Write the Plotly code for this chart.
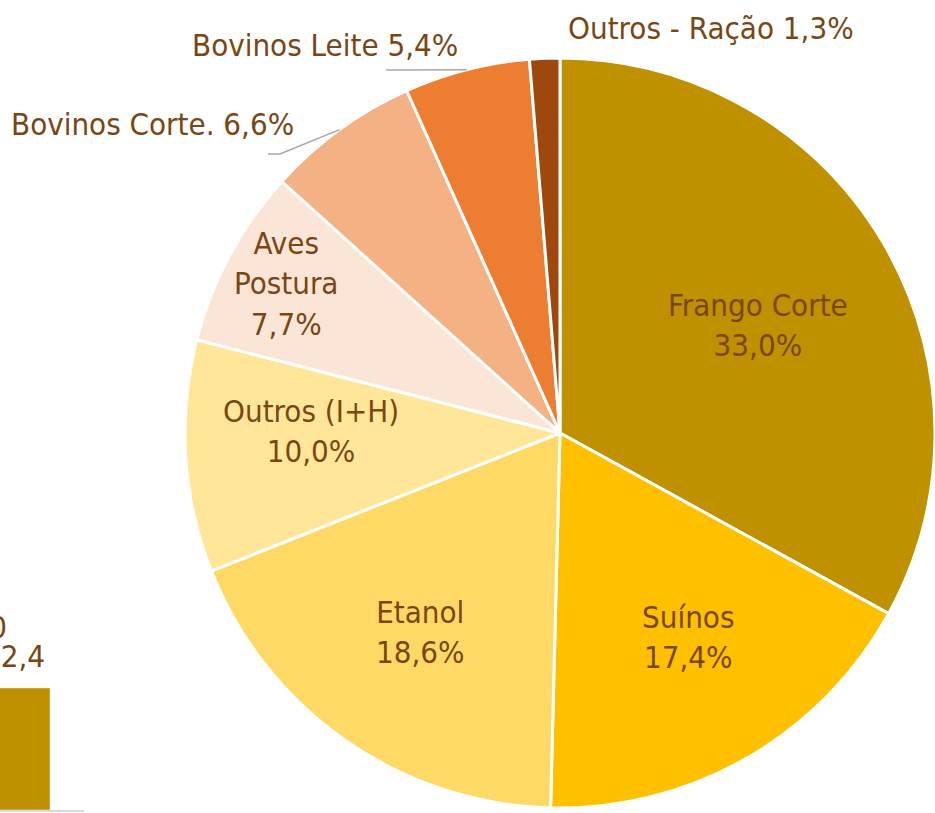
import math
import plotly.graph_objects as go

labels = ["Frango Corte", "Suínos", "Etanol", "Outros (I+H)", "Aves<br>Postura",
          "Bovinos Corte.", "Bovinos Leite", "Outros - Ração"]
values = [33.0, 17.4, 18.6, 10.0, 7.7, 6.6, 5.4, 1.3]
colors = ["#BF9000", "#FFC000", "#FFD966", "#FFE699", "#FBE5D6",
          "#F4B183", "#ED7D31", "#9E480E"]

bar_cat = ["2020"]
bar_val = [62.4]

FONT = "DejaVu Sans Condensed, Liberation Sans Narrow, sans-serif"
TXT = "#7A4614"
FS = 31

W, H = 935, 813
# pie placement (pixels)
CX, CY, R = 560, 433, 375

def fmt(v):
    return f"{v:.1f}".replace(".", ",") + "%"

fig = go.Figure()
fig.add_trace(go.Pie(
    labels=labels, values=values, textinfo="none",
    sort=False, direction="clockwise", rotation=0,
    marker=dict(colors=colors, line=dict(color="white", width=3)),
    hoverinfo="skip", showlegend=False,
    domain=dict(x=[(CX - R) / W, (CX + R) / W], y=[(H - CY - R) / H, (H - CY + R) / H]),
))

# slice label positions (pixels, layout only)
inside_pos = [(758, 325), (688, 637), (420, 632), (311, 431), (286, 284)]
outside_pos = [(296, 124, "right"), (460, 45, "right"), (566, 28, "left")]

def px2paper(x, y):
    return x / W, 1 - y / H

for i in range(5):
    x, y = px2paper(*inside_pos[i])
    fig.add_annotation(text=f"{labels[i]}<br>{fmt(values[i])}", xref="paper", yref="paper",
                       x=x, y=y, xanchor="center", yanchor="middle", showarrow=False,
                       font=dict(family=FONT, size=FS, color=TXT))

total = sum(values)
cum = 0.0
mids = []
for v in values:
    mids.append((cum + v / 2) / total * 2 * math.pi)
    cum += v

for j, i in enumerate(range(5, 8)):
    px, py, anchor = outside_pos[j]
    x, y = px2paper(px, py)
    fig.add_annotation(text=f"{labels[i]} {fmt(values[i])}", xref="paper", yref="paper",
                       x=x, y=y, xanchor=anchor, yanchor="middle", showarrow=False,
                       font=dict(family=FONT, size=FS, color=TXT))

# leader lines for the two labels that have them
leader_starts = {5: (268, 154), 6: (386, 70)}
for i, (sx, sy) in leader_starts.items():
    ex = CX + R * math.sin(mids[i])
    ey = CY - R * math.cos(mids[i])
    pts = [(sx, sy), (sx + 12, sy), (ex, ey)]
    path = "M " + " L ".join(f"{px2paper(a, b)[0]},{px2paper(a, b)[1]}" for a, b in pts)
    fig.add_shape(type="path", path=path, xref="paper", yref="paper",
                  line=dict(color="#A6A6A6", width=1.5))

fig.add_trace(go.Bar(
    x=bar_cat, y=bar_val, marker_color="#BF9000", width=0.8,
    xaxis="x", yaxis="y", showlegend=False, hoverinfo="skip",
))
for k, (c, v) in enumerate(zip(bar_cat, bar_val)):
    fig.add_annotation(text=f"{v:.1f}".replace(".", ","), x=k, y=v, xref="x", yref="y",
                       xanchor="center", yanchor="bottom", yshift=12, showarrow=False,
                       font=dict(family=FONT, size=FS, color=TXT))
    fig.add_annotation(text=c, xref="paper", yref="paper", x=9 / W, y=1 - 627 / H,
                       xanchor="right", yanchor="middle", showarrow=False,
                       font=dict(family=FONT, size=FS, color=TXT))

fig.update_layout(
    width=W, height=H, margin=dict(l=0, r=0, t=0, b=0),
    paper_bgcolor="white", plot_bgcolor="rgba(0,0,0,0)",
    xaxis=dict(domain=[0, 84 / W], type="category", range=[-0.1556, 0.7778],
               showgrid=False, zeroline=False, showticklabels=False, ticks="",
               showline=True, linecolor="#D9D9D9", linewidth=2),
    yaxis=dict(domain=[3 / H, 213 / H], range=[0, 107.4], showgrid=False,
               zeroline=False, showticklabels=False, showline=False),
    font=dict(family=FONT, color=TXT),
)

fig.write_html("out.html", config={"displayModeBar": False},
               post_script="document.body.style.margin='0px';")
